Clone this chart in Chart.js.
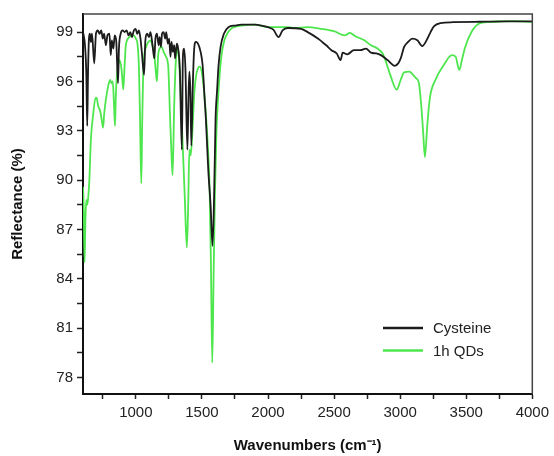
<!DOCTYPE html>
<html>
<head>
<meta charset="utf-8">
<script src="https://cdn.jsdelivr.net/npm/chart.js@4"></script>
<style>
html,body{margin:0;padding:0;background:#fff;}
#wrap{width:554px;height:456px;position:relative;}
</style>
</head>
<body>
<div id="wrap"><canvas id="c"></canvas></div>
<script>
// ---- Data ----
const seriesLabels = ["Cysteine", "1h QDs"];

const cysteineX = [600,605,615,625,632,638,645,652,660,668,685,698,712,725,738,750,760,773,785,800,810,818,830,840,852,865,872,885,900,915,930,945,958,970,985,998,1010,1023,1035,1045,1062,1072,1085,1100,1110,1120,1132,1140,1148,1160,1172,1180,1190,1198,1210,1222,1230,1242,1252,1262,1270,1280,1290,1297,1310,1320,1333,1348,1356,1365,1375,1390,1398,1405,1412,1420,1430,1440,1453,1470,1490,1505,1520,1530,1548,1566,1580,1592,1603,1615,1625,1641,1666,1700,1750,1800,1900,1950,2000,2040,2080,2110,2150,2250,2300,2380,2440,2480,2520,2549,2565,2600,2650,2700,2741,2779,2820,2854,2904,2959,2985,3004,3030,3060,3092,3130,3167,3200,3230,3255,3304,3400,3600,3800,4000];
const cysteineY = [99.0,98.8,98.2,96.5,93.3,96.5,98.6,98.9,98.4,98.9,97.1,98.9,99.1,98.9,99.1,98.6,98.9,98.2,98.8,98.9,97.6,98.5,98.0,98.8,98.4,95.9,98.0,98.9,99.1,99.0,99.1,98.8,99.0,98.7,99.1,99.2,98.9,99.1,98.6,97.8,96.4,98.5,98.9,98.7,99.0,98.6,97.8,97.4,98.6,98.9,98.2,98.7,98.1,98.9,99.0,98.6,99.0,98.3,98.6,97.5,98.4,97.8,98.2,97.4,98.3,98.0,96.7,91.85,97.5,98.0,96.8,91.85,95.0,96.6,95.5,92.1,95.5,97.8,98.4,98.3,97.8,97.0,95.0,93.7,90.6,88.4,86.0,89.0,93.7,95.5,96.9,98.1,98.9,99.3,99.4,99.45,99.45,99.4,99.3,99.15,98.7,99.1,99.25,99.2,99.0,98.6,98.2,97.9,97.7,97.3,97.75,97.65,97.9,97.9,98.0,97.75,97.7,97.6,97.3,96.95,97.1,97.4,98.1,98.4,98.6,98.5,98.15,98.5,99.0,99.35,99.55,99.6,99.63,99.65,99.65];

const qdX = [600,605,612,618,625,632,640,648,660,677,695,703,715,730,745,752,760,773,790,805,815,825,835,842,848,856,870,878,892,905,915,923,940,953,970,985,1000,1012,1023,1032,1041,1048,1058,1078,1095,1110,1125,1140,1152,1160,1168,1180,1195,1210,1228,1245,1258,1270,1278,1290,1303,1315,1325,1340,1355,1370,1386,1396,1405,1415,1428,1440,1453,1470,1485,1500,1515,1530,1545,1558,1568,1578,1588,1598,1610,1620,1635,1650,1670,1691,1720,1741,1800,1900,2000,2154,2200,2300,2400,2504,2579,2620,2660,2729,2779,2829,2867,2892,2925,2974,3004,3030,3070,3097,3120,3142,3160,3174,3187,3205,3225,3267,3330,3392,3420,3447,3470,3492,3542,3605,3700,3850,4000];
const qdY = [89.6,88.5,85.0,87.5,88.8,88.5,89.0,90.0,92.5,94.0,95.0,95.0,94.5,94.2,93.5,93.2,94.0,94.9,95.7,96.1,95.9,96.0,94.5,93.3,95.0,96.3,97.2,97.3,96.7,95.5,97.0,98.1,98.6,98.7,98.8,98.8,98.6,98.3,96.9,93.5,89.8,93.5,97.0,98.1,98.4,98.5,98.2,97.6,96.5,96.0,97.5,98.0,98.1,97.8,97.5,96.9,94.0,91.5,90.3,94.5,97.3,98.0,97.5,95.0,92.0,89.0,85.9,88.5,91.85,91.5,93.0,95.0,96.2,96.8,96.9,96.5,95.5,94.0,92.0,89.5,85.0,78.9,84.0,89.0,93.0,94.7,96.5,97.7,98.5,98.9,99.2,99.3,99.4,99.45,99.3,99.3,99.25,99.3,99.2,99.04,98.8,98.95,98.75,98.5,98.2,98.0,97.7,97.2,96.4,95.5,96.1,96.55,96.6,96.4,96.2,95.9,94.5,92.9,91.4,93.3,95.0,96.1,97.0,97.6,97.5,96.7,97.4,98.1,99.04,99.55,99.63,99.67,99.62];

const xTickValues = [750,1000,1250,1500,1750,2000,2250,2500,2750,3000,3250,3500,3750,4000];
const yTickValues = [78,79.5,81,82.5,84,85.5,87,88.5,90,91.5,93,94.5,96,97.5,99];

const seriesColors = ["#1c1c1c", "#4de64d"];

// ---- Build datasets ----
function pts(xs, ys){ return xs.map((x,i)=>({x:x, y:ys[i]})); }

const FONT = "'Liberation Sans', Arial, Helvetica, sans-serif";

const boxPlugin = {
  id: 'boxAndLegend',
  afterDraw(chart){
    const {ctx, chartArea:a} = chart;
    ctx.save();
    ctx.strokeStyle = '#444';
    ctx.lineWidth = 1.5;
    ctx.beginPath();
    ctx.moveTo(a.left, a.top);
    ctx.lineTo(a.right, a.top);
    ctx.lineTo(a.right, a.bottom);
    ctx.stroke();
    // legend
    const ds = chart.data.datasets;
    const x0 = 383, x1 = 423, y0 = 328, dy = 22.5;
    ctx.font = "15px " + FONT;
    ctx.textBaseline = 'middle';
    ctx.fillStyle = '#222';
    ds.forEach((d,i)=>{
      const y = y0 + i*dy;
      ctx.strokeStyle = d.borderColor;
      ctx.lineWidth = 2.5;
      ctx.beginPath(); ctx.moveTo(x0,y); ctx.lineTo(x1,y); ctx.stroke();
      ctx.fillText(d.label, 433, y + 1);
    });
    ctx.restore();
  }
};

new Chart(document.getElementById('c'), {
  type: 'line',
  data: {
    datasets: [
      {label: seriesLabels[0], data: pts(cysteineX, cysteineY), borderColor: seriesColors[0], borderWidth: 1.8, pointRadius: 0, cubicInterpolationMode: 'monotone'},
      {label: seriesLabels[1], data: pts(qdX, qdY), borderColor: seriesColors[1], borderWidth: 1.8, pointRadius: 0, cubicInterpolationMode: 'monotone'}
    ]
  },
  options: {
    responsive: true,
    maintainAspectRatio: false,
    animation: false,
    layout: {padding: {left: 0, top: 14, right: 18, bottom: 0}},
    plugins: {legend: {display: false}, tooltip: {enabled: false}},
    scales: {
      x: {
        type: 'linear', min: 600, max: 4000,
        afterBuildTicks: s => { s.ticks = xTickValues.map(v=>({value:v})); },
        afterFit: s => { s.height = 62; },
        grid: {drawOnChartArea: false, drawTicks: true, tickLength: 5, tickColor: '#222', tickWidth: 1.5},
        border: {display: true, color: '#111', width: 2},
        ticks: {
          font: {family: FONT, size: 15}, color: '#222', padding: 5, maxRotation: 0, autoSkip: false,
          callback: v => (v % 500 === 0) ? String(v) : ''
        },
        title: {display: true, text: 'Wavenumbers (cm⁻¹)', font: {family: FONT, size: 15, weight: 'bold'}, color: '#111', padding: {top: 0, bottom: 1}}
      },
      y: {
        type: 'linear', min: 77, max: 100.1,
        afterBuildTicks: s => { s.ticks = yTickValues.map(v=>({value:v})); },
        afterFit: s => { s.width = 83; },
        grid: {drawOnChartArea: false, drawTicks: true, tickLength: 6, tickColor: '#222', tickWidth: 1.5},
        border: {display: true, color: '#111', width: 2},
        ticks: {
          font: {family: FONT, size: 15}, color: '#222', padding: 4, autoSkip: false,
          callback: v => Number.isInteger(v) ? String(v) : ''
        },
        title: {display: true, text: 'Reflectance (%)', font: {family: FONT, size: 15, weight: 'bold'}, color: '#111', padding: {top: 9, bottom: 0}}
      }
    }
  },
  plugins: [boxPlugin]
});
</script>
</body>
</html>
